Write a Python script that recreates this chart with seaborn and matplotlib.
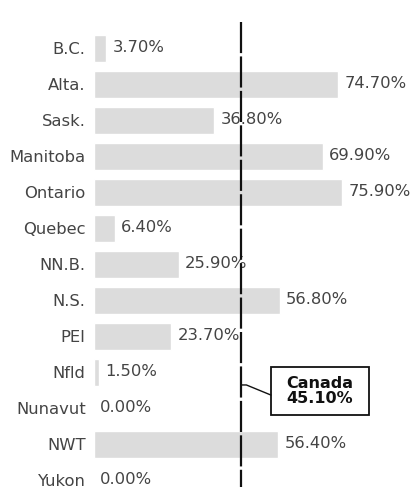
import matplotlib
matplotlib.use("Agg")
import matplotlib.pyplot as plt
from matplotlib.patches import Rectangle
import seaborn as sns
import pandas as pd

provinces = ["B.C.", "Alta.", "Sask.", "Manitoba", "Ontario", "Quebec", "NN.B.",
             "N.S.", "PEI", "Nfld", "Nunavut", "NWT", "Yukon"]
shares = [3.7, 74.7, 36.8, 69.9, 75.9, 6.4, 25.9, 56.8, 23.7, 1.5, 0.0, 56.4, 0.0]
canada_share = 45.1
canada_label = "Canada\n45.10%"

df = pd.DataFrame({"province": provinces, "share": shares})

sns.set_style("white")
plt.rcParams["font.family"] = ["DejaVu Sans"]

fig = plt.figure(figsize=(4.17, 4.87), dpi=100)
ax = fig.add_axes([94 / 417, 0, 1 - 94 / 417, 1])

sns.barplot(data=df, x="share", y="province", orient="h", color="#dcdcdc",
            saturation=1, width=0.75, ax=ax)

for i, v in enumerate(df["share"]):
    ax.annotate(f"{v:.2f}%", (v, i), xytext=(4.5, 0), textcoords="offset points",
                va="center", ha="left", fontsize=11.8, color="#444444")

# Canada average line
ax.vlines(canada_share, -0.72, 12.5, colors="#111111", linewidth=1.6,
          linestyles=(0, (14, 1.5)), zorder=3)

# callout box + leader
box_x, box_y, box_w, box_h = 54.1, 8.86, 30.0, 1.33
ax.add_patch(Rectangle((box_x, box_y), box_w, box_h, fc="white", ec="#111111",
                       lw=1.3, zorder=4))
ax.text(box_x + box_w / 2, box_y + box_h / 2, canada_label, ha="center", va="center",
        fontsize=11.5, fontweight="bold", color="#111111", linespacing=0.95, zorder=5)
ax.plot([canada_share, canada_share + 1.5, box_x], [9.36, 9.36, 9.64],
        color="#111111", lw=1, zorder=4)

ax.set_xlim(0, (417 - 94) / 3.27)
ax.set_ylim((487 - 48) / 36, -48 / 36)
ax.set_xlabel("")
ax.set_ylabel("")
ax.set_xticks([])
ax.tick_params(axis="y", length=0, pad=6, labelsize=11.8, labelcolor="#444444")
sns.despine(ax=ax, left=True, bottom=True)

fig.savefig("out.png", dpi=100)
